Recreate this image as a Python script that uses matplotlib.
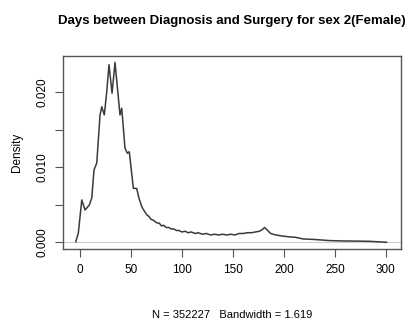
import matplotlib.pyplot as plt

# density curve (days, density)
days = [-4.2, -1.7, 1.7, 4.9, 9.1, 11.5, 13.7, 16.4, 19.6, 21.3, 23.8, 26.2,
        28.4, 31.4, 34.3, 39.2, 40.9, 44.1, 46.4, 48.3, 52.3, 55.6, 57.8,
        60.5, 62.5, 64, 66, 67.5, 69.5, 71.5, 73.5, 75.5, 77.5, 80, 82, 84.5,
        87, 89.5, 92, 94.5, 97, 100, 103, 106, 109, 113, 116, 120, 124, 128,
        132, 136, 140, 144, 148, 152, 156, 160, 164, 168, 172, 176, 178.5,
        181, 184, 187, 192, 198, 205, 211, 219, 230, 245, 260, 275, 285, 291,
        300.7]
density = [0.0001, 0.00123, 0.00567, 0.00433, 0.005, 0.00593, 0.00967,
           0.0106, 0.0170, 0.0181, 0.0170, 0.0201, 0.0237, 0.0199, 0.0240,
           0.0170, 0.0179, 0.01256, 0.0119, 0.0121, 0.00723, 0.0072, 0.0059,
           0.0048, 0.0043, 0.0040, 0.0036, 0.0035, 0.0031, 0.0030, 0.0028,
           0.0026, 0.0026, 0.0022, 0.0023, 0.0020, 0.0020, 0.0018, 0.0018,
           0.0016, 0.0016, 0.0014, 0.0015, 0.0013, 0.0014, 0.0012, 0.0013,
           0.0011, 0.0012, 0.0010, 0.0011, 0.0010, 0.0011, 0.0010, 0.0011,
           0.0010, 0.0012, 0.0012, 0.0013, 0.0013, 0.0014, 0.0015, 0.0017,
           0.0020, 0.0016, 0.0012, 0.0010, 0.00087, 0.00075, 0.0007, 0.00047,
           0.0004, 0.00025, 0.0002, 0.00018, 0.00015, 0.0001, 0.00003]

x_ticks = [0, 50, 100, 150, 200, 250, 300]
y_ticks = [0.0, 0.005, 0.010, 0.015, 0.020]
y_labels = ["0.000", "", "0.010", "", "0.020"]

plt.rcParams["font.family"] = ["Liberation Sans", "DejaVu Sans"]

fig = plt.figure(figsize=(4.10, 3.31), dpi=100)
ax = fig.add_axes([0.1537, 0.2477, 0.824, 0.584])

ax.axhline(0, color="#cccccc", lw=0.8)
ax.plot(days, density, color="#3a3a3a", lw=1.1)

ax.set_xlim(-16.7, 314.7)
ax.set_ylim(-0.00087, 0.0249)

ax.set_xticks(x_ticks)
ax.set_xticklabels([str(t) for t in x_ticks])
ax.set_yticks(y_ticks)
ax.set_yticklabels(y_labels, rotation=90, va="center")
ax.tick_params(direction="out", length=6, color="#555555", labelsize=8.5, pad=4.5)

for s in ax.spines.values():
    s.set_color("#555555")
    s.set_linewidth(1.0)

ax.set_title("Days between Diagnosis and Surgery for sex 2(Female)",
             fontsize=9.5, fontweight="bold", pad=23)
ax.set_ylabel("Density", fontsize=8.5, labelpad=10)
ax.set_xlabel("N = 352227   Bandwidth = 1.619", fontsize=8, labelpad=25)

fig.savefig("out.png", dpi=100)
